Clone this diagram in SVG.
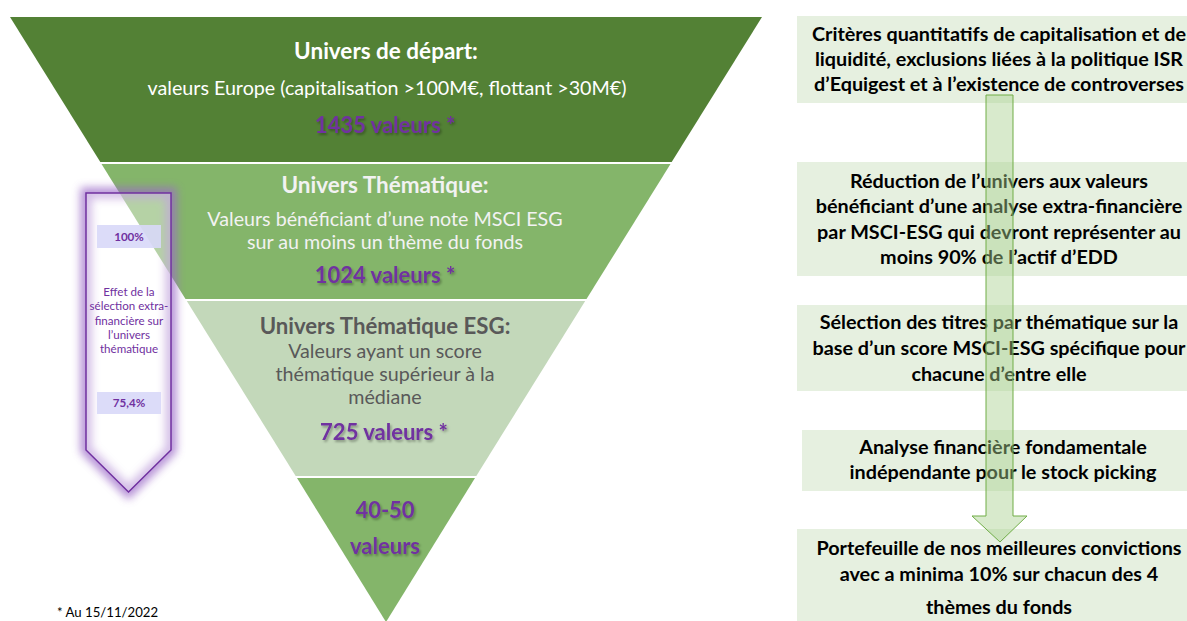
<svg xmlns="http://www.w3.org/2000/svg" width="1187" height="621" viewBox="0 0 1187 621">
<defs>
<style>
.t{font-family:Lato,"Open Sans","Liberation Sans",sans-serif;text-anchor:middle}
.b{font-weight:bold}
.wt{fill:#ffffff}
.gt{fill:#595959}
.pu{fill:#7030A0;font-weight:bold}
.rb{fill:#E6F0E0}
.rt{fill:#000000;font-weight:bold;font-size:19.8px}
.sm{fill:#7030A0;font-size:11.6px}
.lab{fill:#D8D8F8;opacity:0.9}
</style>
<filter id="sh" x="-10%" y="-30%" width="130%" height="170%">
<feDropShadow dx="1.5" dy="2" stdDeviation="1" flood-color="#000" flood-opacity="0.3"/>
</filter>
<filter id="glow" x="-30%" y="-30%" width="160%" height="160%">
<feGaussianBlur stdDeviation="4"/>
</filter>
</defs>
<rect width="1187" height="621" fill="#ffffff"/>

<g id="band1">
<polygon points="10,17 762,17 671.7,162 100.3,162" fill="#538135"/>
<text class="t b wt" x="386" y="59" font-size="22.5">Univers de départ:</text>
<text class="t wt" x="387" y="95" font-size="19.7">valeurs Europe (capitalisation &gt;100M€, flottant &gt;30M€)</text>
<text class="t pu" x="385" y="133" font-size="22" filter="url(#sh)">1435 valeurs *</text>
</g>

<g id="band2">
<polygon points="101.5,164 670.5,164 586.5,299 185.5,299" fill="#84B56A"/>
<text class="t b" x="385" y="193" font-size="22.5" fill="#F2F2F2">Univers Thématique:</text>
<text class="t" x="385" y="226" font-size="19.7" fill="#F2F2F2">Valeurs bénéficiant d’une note MSCI ESG</text>
<text class="t" x="385" y="249" font-size="19.7" fill="#F2F2F2">sur au moins un thème du fonds</text>
<text class="t pu" x="385" y="283" font-size="22" filter="url(#sh)">1024 valeurs *</text>
</g>

<g id="band3">
<polygon points="186.8,301 585.2,301 476.3,476 295.7,476" fill="#C3D8BA"/>
<text class="t b gt" x="385" y="334" font-size="22.2">Univers Thématique ESG:</text>
<text class="t gt" x="385" y="358" font-size="19.7">Valeurs ayant un score</text>
<text class="t gt" x="385" y="381" font-size="19.7">thématique supérieur à la</text>
<text class="t gt" x="385" y="404" font-size="19.7">médiane</text>
<text class="t pu" x="384" y="440" font-size="22" filter="url(#sh)">725 valeurs *</text>
</g>

<g id="band4">
<polygon points="297,478 475,478 386,622" fill="#84B56A"/>
<text class="t pu" x="385" y="518" font-size="22" filter="url(#sh)">40-50</text>
<text class="t pu" x="385" y="554" font-size="22" filter="url(#sh)">valeurs</text>
</g>

<g id="note">
<text x="57" y="617" font-family="Lato,'Liberation Sans',sans-serif" font-size="13.2" fill="#000">* Au 15/11/2022</text>
</g>

<g id="effect-arrow">
<path d="M86,193 H171 V450 L128.5,492 L86,450 Z" fill="none" stroke="#9B6BC8" stroke-width="11" opacity="0.75" filter="url(#glow)"/>
<path d="M86,193 H171 V450 L128.5,492 L86,450 Z" fill="#ffffff" fill-opacity="0.4" stroke="#7030A0" stroke-width="1.5"/>
<rect class="lab" x="97" y="225" width="64" height="23"/>
<text class="t sm b" x="129" y="241">100%</text>
<text class="t sm" x="129" y="296">Effet de la</text>
<text class="t sm" x="129" y="310">sélection extra-</text>
<text class="t sm" x="129" y="325">financière sur</text>
<text class="t sm" x="129" y="339">l’univers</text>
<text class="t sm" x="129" y="353">thématique</text>
<rect class="lab" x="97" y="392" width="64" height="22"/>
<text class="t sm b" x="129" y="407">75,4%</text>
</g>

<g id="step1">
<rect class="rb" x="797" y="16" width="390" height="87"/>
<text class="t rt" x="999" y="41">Critères quantitatifs de capitalisation et de</text>
<text class="t rt" x="999" y="66">liquidité, exclusions liées à la politique ISR</text>
<text class="t rt" x="999" y="91">d’Equigest et à l’existence de controverses</text>
</g>
<g id="step2">
<rect class="rb" x="797" y="162" width="390" height="114"/>
<text class="t rt" x="999" y="188">Réduction de l’univers aux valeurs</text>
<text class="t rt" x="999" y="213">bénéficiant d’une analyse extra-financière</text>
<text class="t rt" x="999" y="239">par MSCI-ESG qui devront représenter au</text>
<text class="t rt" x="999" y="264">moins 90% de l’actif d’EDD</text>
</g>
<g id="step3">
<rect class="rb" x="797" y="305" width="390" height="86"/>
<text class="t rt" x="999" y="329">Sélection des titres par thématique sur la</text>
<text class="t rt" x="999" y="355">base d’un score MSCI-ESG spécifique pour</text>
<text class="t rt" x="999" y="381">chacune d’entre elle</text>
</g>
<g id="step4">
<rect class="rb" x="802" y="430" width="385" height="61"/>
<text class="t rt" x="1003" y="454">Analyse financière fondamentale</text>
<text class="t rt" x="1003" y="479">indépendante pour le stock picking</text>
</g>
<g id="step5">
<rect class="rb" x="797" y="529" width="390" height="92"/>
<text class="t rt" x="999" y="555">Portefeuille de nos meilleures convictions</text>
<text class="t rt" x="999" y="581">avec a minima 10% sur chacun des 4</text>
<text class="t rt" x="999" y="614">thèmes du fonds</text>
</g>

<g id="connectors">
<path d="M986,95 H1013 V516 H1027 L1000,542 L972,516 H986 Z" fill="#A9D18E" fill-opacity="0.45" stroke="#70AD47" stroke-width="1"/>
</g>
</svg>
